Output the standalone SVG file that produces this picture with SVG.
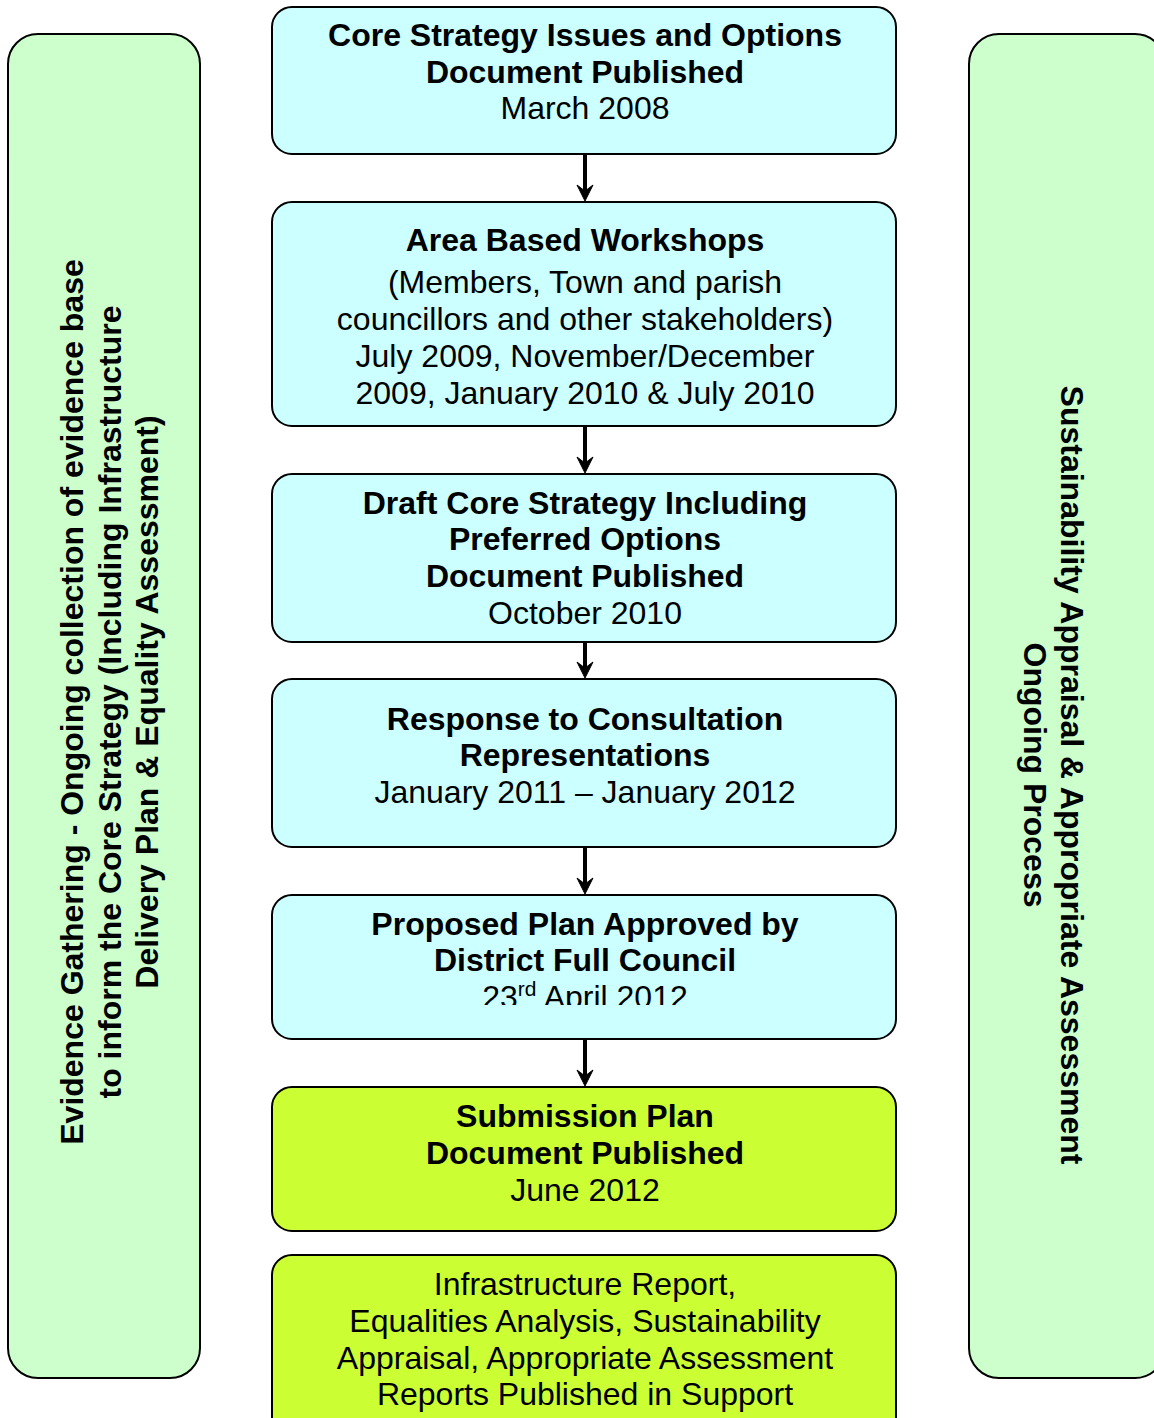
<svg xmlns="http://www.w3.org/2000/svg" width="1154" height="1418" viewBox="0 0 1154 1418">
<style>
.panel{fill:#CCFFCC;stroke:#000;stroke-width:2}
.cyan{fill:#CCFFFF;stroke:#000;stroke-width:2}
.lime{fill:#CCFF33;stroke:#000;stroke-width:2}
text{font-family:"Liberation Sans",Arial,sans-serif;font-size:32px;fill:#000;text-anchor:middle}
.b{font-weight:bold}
.conn line{stroke:#000;stroke-width:4}
.conn path{fill:#000;stroke:#000;stroke-width:1;stroke-linejoin:miter}
</style>
<defs>
<clipPath id="clip5"><rect x="272" y="895" width="624" height="110"/></clipPath>
</defs>
<rect width="1154" height="1418" fill="#fff"/>
<g id="left-panel">
<rect class="panel" x="8" y="34" width="192" height="1344" rx="30" ry="30"/>
<text class="b" transform="translate(83,702) rotate(-90)">Evidence Gathering - Ongoing collection of evidence base</text>
<text class="b" transform="translate(121,702) rotate(-90)">to inform the Core Strategy (Including Infrastructure</text>
<text class="b" transform="translate(158,702) rotate(-90)">Delivery Plan &amp; Equality Assessment)</text>
</g>
<g id="right-panel">
<rect class="panel" x="969" y="34" width="196" height="1344" rx="30" ry="30"/>
<text class="b" transform="translate(1061,775) rotate(90)">Sustainability Appraisal &amp; Appropriate Assessment</text>
<text class="b" transform="translate(1024,775) rotate(90)">Ongoing Process</text>
</g>
<g id="box1">
<rect class="cyan" x="272" y="7" width="624" height="147" rx="20" ry="20"/>
<text class="b" x="585" y="45.5">Core Strategy Issues and Options</text>
<text class="b" x="585" y="82.5">Document Published</text>
<text x="585" y="119">March 2008</text>
</g>
<g id="box2">
<rect class="cyan" x="272" y="202" width="624" height="224" rx="20" ry="20"/>
<text class="b" x="585" y="250.5">Area Based Workshops</text>
<text x="585" y="293">(Members, Town and parish</text>
<text x="585" y="330">councillors and other stakeholders)</text>
<text x="585" y="367">July 2009, November/December</text>
<text x="585" y="404">2009, January 2010 &amp; July 2010</text>
</g>
<g id="box3">
<rect class="cyan" x="272" y="474" width="624" height="168" rx="20" ry="20"/>
<text class="b" x="585" y="513.5">Draft Core Strategy Including</text>
<text class="b" x="585" y="549.5">Preferred Options</text>
<text class="b" x="585" y="586.5">Document Published</text>
<text x="585" y="623.5">October 2010</text>
</g>
<g id="box4">
<rect class="cyan" x="272" y="679" width="624" height="168" rx="20" ry="20"/>
<text class="b" x="585" y="729.5">Response to Consultation</text>
<text class="b" x="585" y="765.5">Representations</text>
<text x="585" y="802.5">January 2011 – January 2012</text>
</g>
<g id="box5">
<rect class="cyan" x="272" y="895" width="624" height="144" rx="20" ry="20"/>
<text class="b" x="585" y="934.5">Proposed Plan Approved by</text>
<text class="b" x="585" y="970.5">District Full Council</text>
<text x="585" y="1008" clip-path="url(#clip5)">23<tspan font-size="21" dy="-12">rd</tspan><tspan dy="12"> April 2012</tspan></text>
</g>
<g id="box6">
<rect class="lime" x="272" y="1087" width="624" height="144" rx="20" ry="20"/>
<text class="b" x="585" y="1126.5">Submission Plan</text>
<text class="b" x="585" y="1163.5">Document Published</text>
<text x="585" y="1200.5">June 2012</text>
</g>
<g id="box7">
<rect class="lime" x="272" y="1255" width="624" height="190" rx="20" ry="20"/>
<text x="585" y="1294.5">Infrastructure Report,</text>
<text x="585" y="1331.5">Equalities Analysis, Sustainability</text>
<text x="585" y="1368.5">Appraisal, Appropriate Assessment</text>
<text x="585" y="1404.5">Reports Published in Support</text>
</g>
<g id="connectors" class="conn">
<line x1="585" y1="155" x2="585" y2="192"/><path d="M585,201 L577,185 L585,191 L593,185 Z"/>
<line x1="585" y1="427" x2="585" y2="464"/><path d="M585,473 L577,457 L585,463 L593,457 Z"/>
<line x1="585" y1="643" x2="585" y2="669"/><path d="M585,678 L577,662 L585,668 L593,662 Z"/>
<line x1="585" y1="848" x2="585" y2="885"/><path d="M585,894 L577,878 L585,884 L593,878 Z"/>
<line x1="585" y1="1040" x2="585" y2="1077"/><path d="M585,1086 L577,1070 L585,1076 L593,1070 Z"/>
</g>
</svg>
